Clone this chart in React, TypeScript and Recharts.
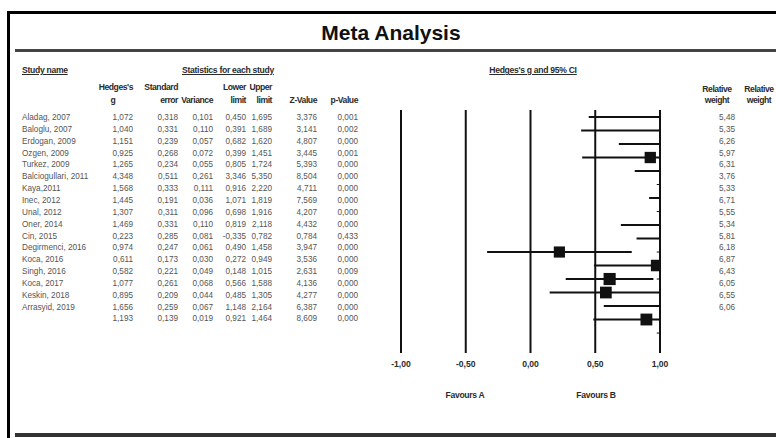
import { ComposedChart, ReferenceLine, Scatter, XAxis, YAxis, ZAxis } from 'recharts'

// Study table.
const studies = [
  'Aladag, 2007', 'Baloglu, 2007', 'Erdogan, 2009', 'Ozgen, 2009', 'Turkez, 2009',
  'Balciogullari, 2011', 'Kaya,2011', 'Inec, 2012', 'Unal, 2012', 'Oner, 2014',
  'Cin, 2015', 'Degirmenci, 2016', 'Koca, 2016', 'Singh, 2016', 'Koca, 2017',
  'Keskin, 2018', 'Arrasyid, 2019',
]
const hedgesG = [1.072, 1.04, 1.151, 0.925, 1.265, 4.348, 1.568, 1.445, 1.307, 1.469, 0.223, 0.974, 0.611, 0.582, 1.077, 0.895, 1.656]
const stdErr = [0.318, 0.331, 0.239, 0.268, 0.234, 0.511, 0.333, 0.191, 0.311, 0.331, 0.285, 0.247, 0.173, 0.221, 0.261, 0.209, 0.259]
const variance = [0.101, 0.11, 0.057, 0.072, 0.055, 0.261, 0.111, 0.036, 0.096, 0.11, 0.081, 0.061, 0.03, 0.049, 0.068, 0.044, 0.067]
const lowerLimit = [0.45, 0.391, 0.682, 0.399, 0.805, 3.346, 0.916, 1.071, 0.698, 0.819, -0.335, 0.49, 0.272, 0.148, 0.566, 0.485, 1.148]
const upperLimit = [1.695, 1.689, 1.62, 1.451, 1.724, 5.35, 2.22, 1.819, 1.916, 2.118, 0.782, 1.458, 0.949, 1.015, 1.588, 1.305, 2.164]
const zValue = [3.376, 3.141, 4.807, 3.445, 5.393, 8.504, 4.711, 7.569, 4.207, 4.432, 0.784, 3.947, 3.536, 2.631, 4.136, 4.277, 6.387]
const pValue = [0.001, 0.002, 0.0, 0.001, 0.0, 0.0, 0.0, 0.0, 0.0, 0.0, 0.433, 0.0, 0.0, 0.009, 0.0, 0.0, 0.0]
const relWeight = [5.48, 5.35, 6.26, 5.97, 6.31, 3.76, 5.33, 6.71, 5.55, 5.34, 5.81, 6.18, 6.87, 6.43, 6.05, 6.55, 6.06]

// pooled row: g, se, var, lower, upper, z, p
const summary = [1.193, 0.139, 0.019, 0.921, 1.464, 8.609, 0.0]

const axisTicks = [-1, -0.5, 0, 0.5, 1]

const INK = '#2b2b2b'
const GREY = '#555'
const FONT = '"Liberation Sans", Arial, sans-serif'
const HEAD = 8.6
const COLHEAD = 8.6

const ROW0 = 118
const ROW_H = 11.85

function fmt(v: number, d = 3) {
  return v.toFixed(d).replace('.', ',')
}

const columns = [
  { right: 133, vals: hedgesG },
  { right: 178, vals: stdErr },
  { right: 213, vals: variance },
  { right: 246, vals: lowerLimit },
  { right: 272, vals: upperLimit },
  { right: 317, vals: zValue },
  { right: 358, vals: pValue },
]

function Txt({ x, y, children, align = 'left', bold, underline, size = 8.2, color = GREY, spacing = 0 }: any) {
  const w = 140
  const left = align === 'right' ? x - w : align === 'center' ? x - w / 2 : x
  return (
    <div
      style={{
        position: 'absolute', left, top: y - 6, width: w, lineHeight: '12px', height: 12,
        textAlign: align, fontSize: size, fontWeight: bold ? 700 : 400, color,
        textDecoration: underline ? 'underline' : 'none', whiteSpace: 'nowrap',
        letterSpacing: spacing, fontFamily: FONT,
      }}
    >
      {children}
    </div>
  )
}

function ColHead({ x, y, align = 'right', children }: any) {
  return (
    <Txt x={x} y={y} align={align} bold spacing={-0.45} color={INK} size={COLHEAD}>
      {children}
    </Txt>
  )
}

export default function App() {
  const rows = studies.map((s, i) => ({ x: hedgesG[i], y: i, w: relWeight[i], lo: lowerLimit[i], hi: upperLimit[i] }))
  const shown = rows.filter((r) => r.x <= 1)

  return (
    <div style={{ position: 'absolute', left: 0, top: 0, width: 776, height: 438, background: '#fff', overflow: 'hidden', fontFamily: FONT }}>
      {/* frame */}
      <div style={{ position: 'absolute', left: 7, top: 11, width: 3, height: 427, background: '#000' }} />
      <div style={{ position: 'absolute', left: 7, top: 11, width: 769, height: 3, background: '#000' }} />
      <div style={{ position: 'absolute', left: 15, top: 49, width: 761, height: 3, background: '#444' }} />
      <div style={{ position: 'absolute', left: 15, top: 433, width: 761, height: 4, background: '#333' }} />

      <div style={{ position: 'absolute', left: 241, top: 20, width: 300, textAlign: 'center', fontSize: 21, fontWeight: 700, color: '#111', lineHeight: '26px' }}>
        Meta Analysis
      </div>

      {/* table headers */}
      <Txt x={22} y={70} bold underline spacing={-0.3} color={INK} size={HEAD}>Study name</Txt>
      <Txt x={228} y={70} align="center" bold underline spacing={-0.3} color={INK} size={HEAD}>Statistics for each study</Txt>
      <Txt x={533} y={70} align="center" bold underline spacing={-0.3} color={INK} size={HEAD}>Hedges's g and 95% CI</Txt>

      <ColHead x={133} y={87}>Hedges's</ColHead>
      <ColHead x={113} y={100} align="center">g</ColHead>
      <ColHead x={178} y={87}>Standard</ColHead>
      <ColHead x={178} y={100}>error</ColHead>
      <ColHead x={213} y={100}>Variance</ColHead>
      <ColHead x={246} y={87}>Lower</ColHead>
      <ColHead x={246} y={100}>limit</ColHead>
      <ColHead x={272} y={87}>Upper</ColHead>
      <ColHead x={272} y={100}>limit</ColHead>
      <ColHead x={317} y={100}>Z-Value</ColHead>
      <ColHead x={358} y={100}>p-Value</ColHead>

      <ColHead x={717} y={89} align="center">Relative</ColHead>
      <ColHead x={717} y={100} align="center">weight</ColHead>
      <ColHead x={759} y={89} align="center">Relative</ColHead>
      <ColHead x={759} y={100} align="center">weight</ColHead>

      {/* table body */}
      {studies.map((s, i) => (
        <Txt key={s} x={22} y={ROW0 + i * ROW_H}>{s}</Txt>
      ))}
      {columns.map((c, ci) =>
        c.vals.map((v, i) => (
          <Txt key={ci + '-' + i} x={c.right} y={ROW0 + i * ROW_H} align="right">{fmt(v)}</Txt>
        )),
      )}
      {columns.map((c, ci) => (
        <Txt key={'s' + ci} x={c.right} y={ROW0 + studies.length * ROW_H} align="right">{fmt(summary[ci])}</Txt>
      ))}
      {relWeight.map((w, i) => (
        <Txt key={'w' + i} x={735} y={ROW0 + i * ROW_H} align="right">{fmt(w, 2)}</Txt>
      ))}

      {/* forest plot */}
      <div style={{ position: 'absolute', left: 381, top: 100 }}>
        <ComposedChart width={299} height={283} margin={{ top: 10, right: 20, bottom: 0, left: 20 }}>
          <XAxis
            type="number"
            dataKey="x"
            domain={[-1, 1]}
            ticks={axisTicks}
            allowDataOverflow
            axisLine={false}
            tickLine={false}
            height={30}
            tickFormatter={(v) => fmt(Number(v), 2)}
            tick={{ fontSize: HEAD, fill: INK, fontWeight: 700, fontFamily: FONT }}
          />
          <YAxis type="number" dataKey="y" domain={[-0.52, 17.48]} reversed hide allowDataOverflow />
          <ZAxis type="number" dataKey="w" domain={[0, 7]} range={[0, 150]} />
          {axisTicks.map((t) => (
            <ReferenceLine key={t} x={t} stroke="#111" strokeWidth={2} />
          ))}
          {rows.map((r) => (
            <ReferenceLine
              key={'ci' + r.y}
              segment={[{ x: r.lo, y: r.y }, { x: r.hi, y: r.y }]}
              stroke="#111"
              strokeWidth={2}
              ifOverflow="hidden"
            />
          ))}
          {rows.map((r) => (
            <ReferenceLine
              key={'tk' + r.y}
              segment={[{ x: 0.975, y: r.y }, { x: 1, y: r.y }]}
              stroke="#111"
              strokeWidth={1}
              ifOverflow="hidden"
            />
          ))}
          <Scatter data={shown} shape="square" fill="#111" isAnimationActive={false} />
        </ComposedChart>
      </div>

      <Txt x={465} y={395} align="center" bold spacing={-0.3} color={INK} size={HEAD}>Favours A</Txt>
      <Txt x={596} y={395} align="center" bold spacing={-0.3} color={INK} size={HEAD}>Favours B</Txt>
    </div>
  )
}
